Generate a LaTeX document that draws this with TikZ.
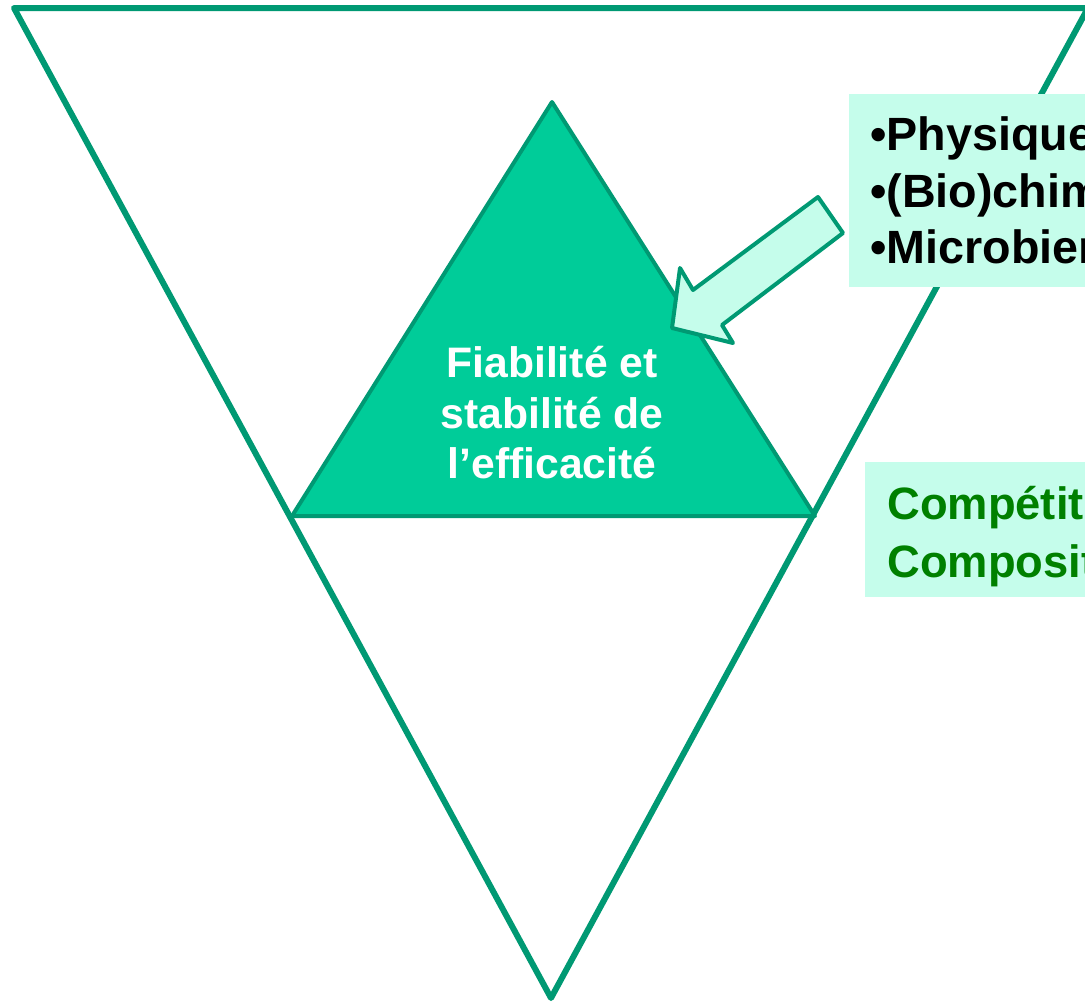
\documentclass[tikz,border=0pt]{standalone}
\usepackage{fontspec}
\setmainfont{Liberation Sans}
\usepackage{tikz}
\definecolor{trigreen}{RGB}{0,153,115}
\definecolor{innergreen}{RGB}{0,204,153}
\definecolor{boxaqua}{RGB}{197,253,235}
\definecolor{textgreen}{RGB}{0,128,0}

\begin{document}
\begin{tikzpicture}[x=0.75pt, y=-0.75pt,
		outline/.style={draw=trigreen, line join=round},
		listtext/.style={anchor=base west, inner sep=0pt, font=\fontsize{35}{42}\bfseries\selectfont},
		greentext/.style={anchor=base west, inner sep=0pt, text=textgreen, font=\fontsize{34}{43}\bfseries\selectfont}]
			%%%%% START %%%%%
			
			\useasboundingbox (0, 0) rectangle (1085, 1004);
			\clip (0, 0) rectangle (1085, 1004);
			
			\draw[outline, line width=4.5pt] (14, 8) -- (1088, 8) -- (551, 998) -- cycle;
			
			\draw[outline, line width=3pt, fill=innergreen] (552, 102) -- (815, 516) -- (292, 516) -- cycle;
			\node[text=white, align=center, inner sep=0pt, font=\fontsize{32}{37.9}\bfseries\selectfont] (core) at (552, 413) {Fiabilit\'e et\\stabilit\'e de\\l’efficacit\'e};
			
			\draw[outline, line width=3pt, fill=boxaqua] (818, 197) -- (843, 233) -- (722, 325) -- (733, 343) -- (672, 328) -- (680, 268) -- (693, 290) -- cycle;
			
			\fill[boxaqua] (849, 94) rectangle (1090, 287);
			\node[listtext] (phys) at (870, 150) {•Physique};
			\node[listtext] (chim) at (870, 207) {•(Bio)chimique};
			\node[listtext] (micro) at (870, 263) {•Microbienne};
			
			\fill[boxaqua] (865, 462) rectangle (1090, 597);
			\node[greentext] (compet) at (887, 519) {Comp\'etitivit\'e};
			\node[greentext] (compo) at (887, 577) {Composition};
			
			%%%%% END %%%%%
		\end{tikzpicture}
\end{document}
